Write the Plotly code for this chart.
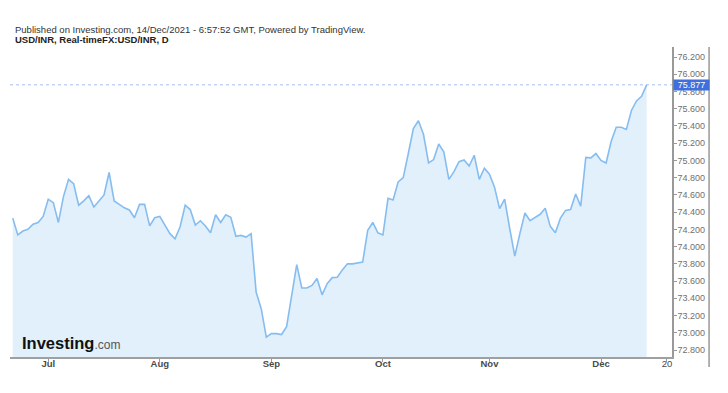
import pandas as pd
import plotly.graph_objects as go

# Trading days (weekdays) shown on the chart
dates = [d.strftime("%Y-%m-%d") for d in pd.bdate_range("2021-06-22", "2021-12-14")]

# USD/INR daily close values
rates = [
    74.33, 74.135, 74.18, 74.20, 74.26, 74.28, 74.35,            # Jun 22-30
    74.55, 74.51, 74.28, 74.58, 74.78, 74.73, 74.48, 74.53, 74.59, 74.46,
    74.53, 74.60, 74.86, 74.53, 74.49, 74.45, 74.425, 74.335, 74.49, 74.49,
    74.24, 74.335,                                                # Jul
    74.35, 74.25, 74.15, 74.09, 74.23, 74.48, 74.43, 74.25, 74.30, 74.24,
    74.16, 74.37, 74.28, 74.37, 74.34, 74.12, 74.13, 74.11, 74.15, 73.47,
    73.28, 72.95,                                                 # Aug
    72.99, 72.99, 72.98, 73.07, 73.44, 73.79, 73.52, 73.52, 73.55, 73.63,
    73.44, 73.57, 73.64, 73.645, 73.73, 73.80, 73.80, 73.81, 73.82, 74.19,
    74.28, 74.16,                                                 # Sep
    74.135, 74.56, 74.54, 74.75, 74.80, 75.08, 75.37, 75.46, 75.30, 74.97,
    75.01, 75.19, 75.10, 74.78, 74.87, 74.985, 75.005, 74.935, 75.06, 74.78,
    74.91,                                                        # Oct
    74.84, 74.69, 74.44, 74.55, 74.21, 73.89, 74.15, 74.39, 74.30, 74.335,
    74.375, 74.445, 74.235, 74.16, 74.33, 74.42, 74.43, 74.61, 74.47, 75.035,
    75.03, 75.08,                                                 # Nov
    75.00, 74.97, 75.22, 75.385, 75.385, 75.36, 75.58, 75.69, 75.745, 75.877,  # Dec
]

last_value = 75.877

month_tick_dates = ["2021-07-01", "2021-08-02", "2021-09-01", "2021-10-01",
                    "2021-11-01", "2021-12-01", "2021-12-20"]
month_tick_labels = ["Jul", "Aug", "Sep", "Oct", "Nov", "Dec", "20"]

price_ticks = [72.8, 73.0, 73.2, 73.4, 73.6, 73.8, 74.0, 74.2, 74.4, 74.6,
               74.8, 75.0, 75.2, 75.4, 75.6, 75.8, 76.0, 76.2]

FONT = "Liberation Sans, Arial, sans-serif"

fig = go.Figure()
fig.add_trace(go.Scatter(
    x=dates, y=rates, mode="lines",
    line=dict(color="#86bdf0", width=1.6),
    fill="tozeroy", fillcolor="#e1f0fb",
    hoverinfo="x+y",
))

fig.update_layout(
    template="none",
    width=720, height=385,
    margin=dict(l=2, r=56, t=39, b=36, autoexpand=False),
    paper_bgcolor="white", plot_bgcolor="white",
    showlegend=False,
    font=dict(family=FONT),
    xaxis=dict(
        type="date",
        rangebreaks=[dict(bounds=["sat", "mon"])],
        range=["2021-06-21 11:00", "2021-12-21"],
        tickvals=month_tick_dates,
        ticktext=["<b>%s</b>" % t if t != "20" else t for t in month_tick_labels],
        tickfont=dict(size=9.5, color="#4a4a4a", family=FONT),
        ticks="outside", ticklen=3, tickcolor="#999999",
        ticklabelstandoff=-6,
        showline=True, linecolor="#a0a0a0", linewidth=1.5,
        showgrid=False, zeroline=False, automargin=False,
    ),
    yaxis=dict(
        side="right",
        range=[72.719, 76.316],
        tickvals=price_ticks,
        tickformat=".3f",
        tickfont=dict(size=9, color="#707070", family=FONT),
        ticks="outside", ticklen=3, tickcolor="#999999",
        ticklabelstandoff=-1,
        showline=True, linecolor="#999999", linewidth=1.5,
        showgrid=False, zeroline=False, automargin=False,
    ),
)

# last-price dotted line
fig.add_shape(type="line", xref="paper", yref="y", x0=0, x1=1,
              y0=last_value, y1=last_value,
              line=dict(color="#8fb0ee", width=0.8, dash="dot"))
# right border of price scale
fig.add_shape(type="line", xref="paper", yref="paper", x0=1.056, x1=1.056,
              y0=-0.032, y1=1, line=dict(color="#999999", width=1.5))

# last-price label
fig.add_annotation(xref="paper", yref="y", x=1.0015, y=last_value,
                   xanchor="left", yanchor="middle",
                   text=f"{last_value:.3f}", showarrow=False,
                   font=dict(size=9, color="white", family=FONT),
                   bgcolor="#3f6fdc", borderpad=0, width=35, align="center")

# header texts
fig.add_annotation(xref="paper", yref="paper", x=0.0045, y=1.0,
                   xanchor="left", yanchor="bottom", yshift=10,
                   text="Published on Investing.com, 14/Dec/2021 - 6:57:52 GMT, Powered by TradingView.",
                   showarrow=False, font=dict(size=9.5, color="#333333", family=FONT))
fig.add_annotation(xref="paper", yref="paper", x=0.0045, y=1.0,
                   xanchor="left", yanchor="bottom", yshift=0,
                   text="<b>USD/INR, Real-timeFX:USD/INR, D</b>",
                   showarrow=False, font=dict(size=9.5, color="#222222", family=FONT))

# watermark logo
fig.add_annotation(xref="paper", yref="paper", x=0.015, y=0.045,
                   xanchor="left", yanchor="middle",
                   text="<b>Investing</b><span style='font-size:12px;color:#555555'>.com</span>",
                   showarrow=False, font=dict(size=16.5, color="#111111", family=FONT))

fig.write_html("out.html")
